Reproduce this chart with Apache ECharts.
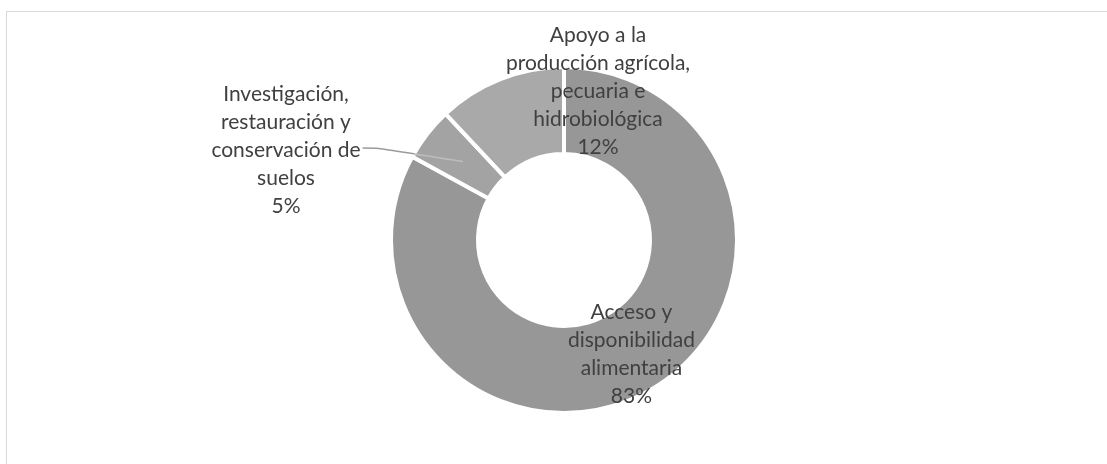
<!DOCTYPE html>
<html>
<head>
<meta charset="utf-8">
<script src="https://cdn.jsdelivr.net/npm/echarts@6/dist/echarts.min.js"></script>
<style>
html,body{margin:0;padding:0;background:#fff;}
#chart{width:1107px;height:464px;}
</style>
</head>
<body>
<div id="chart"></div>
<script>
// ---- data ----
var categories = [
  'Acceso y\ndisponibilidad\nalimentaria',
  'Investigación,\nrestauración y\nconservación de\nsuelos',
  'Apoyo a la\nproducción agrícola,\npecuaria e\nhidrobiológica'
];
var values = [83, 5, 12];

// ---- styles (not data) ----
var sliceColors = ['#979797', '#a3a3a3', '#a9a9a9'];
var labelPositions = ['inside', 'outside', 'outside'];
var showLeader = [false, true, false];
// label anchor points (px) for moved labels; null = keep library position
var labelAnchors = [null, [286, 150], [598, 91]];
var pieCenter = [564, 240];
var pieRadius = [86, 173];
var leaderInnerRadius = 128;

var total = values.reduce(function (a, b) { return a + b; }, 0);
function midAngle(idx) {
  var before = 0;
  for (var i = 0; i < idx; i++) before += values[i];
  return (before + values[idx] / 2) / total * Math.PI * 2; // clockwise from top
}

var labelBase = {
  formatter: function (p) { return p.name + '\n' + p.value + '%'; },
  fontFamily: 'Lato',
  fontSize: 21,
  lineHeight: 28,
  color: '#404040',
  align: 'center'
};

function layoutFn(params) {
  var i = params.dataIndex;
  var a = labelAnchors[i];
  if (!a) return {};
  var out = { x: a[0], y: a[1], align: 'center', verticalAlign: 'middle' };
  if (showLeader[i]) {
    var ang = midAngle(i);
    var ex = pieCenter[0] + leaderInnerRadius * Math.sin(ang);
    var ey = pieCenter[1] - leaderInnerRadius * Math.cos(ang);
    var lx = a[0] + params.labelRect.width / 2 + 2;
    var ly = a[1] - 2;
    out.labelLinePoints = [[lx, ly], [lx + 16, ly], [ex, ey]];
  }
  return out;
}

// leader colour: darker on white, lighter where it runs over the slice
var leaderIdx = showLeader.indexOf(true);
var leadAng = midAngle(leaderIdx);
var leadEndX = pieCenter[0] + leaderInnerRadius * Math.sin(leadAng);
var leadStartX = labelAnchors[leaderIdx][0] + 70;
var edgeY = labelAnchors[leaderIdx][1] + 5;
var edgeX = pieCenter[0] - Math.sqrt(pieRadius[1] * pieRadius[1] - Math.pow(pieCenter[1] - edgeY, 2));
var edgeOff = Math.max(0, Math.min(1, (edgeX - leadStartX) / (leadEndX - leadStartX)));
var leaderColor = {
  type: 'linear', global: true,
  x: leadStartX, y: 0, x2: leadEndX, y2: 0,
  colorStops: [
    { offset: 0, color: '#9a9a9a' },
    { offset: edgeOff, color: '#9a9a9a' },
    { offset: Math.min(1, edgeOff + 0.02), color: '#bdbdbd' },
    { offset: 1, color: '#bdbdbd' }
  ]
};

var chart = echarts.init(document.getElementById('chart'));

var baseData = categories.map(function (c, i) {
  return {
    name: c,
    value: values[i],
    itemStyle: { color: sliceColors[i] },
    label: { show: !showLeader[i], position: labelPositions[i] },
    labelLine: { show: false }
  };
});
var overlayData = categories.map(function (c, i) {
  return {
    name: c,
    value: values[i],
    itemStyle: { color: 'rgba(0,0,0,0)', borderWidth: 0 },
    label: { show: showLeader[i], position: labelPositions[i] },
    labelLine: { show: showLeader[i] }
  };
});

chart.setOption({
  animation: false,
  backgroundColor: '#ffffff',
  tooltip: { show: false },
  graphic: [{
    type: 'rect',
    shape: { x: 6.5, y: 11.5, width: 1200, height: 600 },
    style: { fill: 'none', stroke: '#d9d9d9', lineWidth: 1 },
    silent: true
  }],
  series: [{
    type: 'pie',
    z: 2,
    center: pieCenter,
    radius: pieRadius,
    startAngle: 90,
    clockwise: true,
    avoidLabelOverlap: false,
    itemStyle: { borderColor: '#ffffff', borderWidth: 4 },
    label: labelBase,
    labelLayout: layoutFn,
    data: baseData
  }, {
    type: 'pie',
    z: 3,
    silent: true,
    center: pieCenter,
    radius: pieRadius,
    startAngle: 90,
    clockwise: true,
    avoidLabelOverlap: false,
    label: labelBase,
    labelLine: {
      smooth: 0.3,
      lineStyle: { color: leaderColor, width: 1.5 }
    },
    labelLayout: layoutFn,
    data: overlayData
  }]
});
</script>
</body>
</html>
